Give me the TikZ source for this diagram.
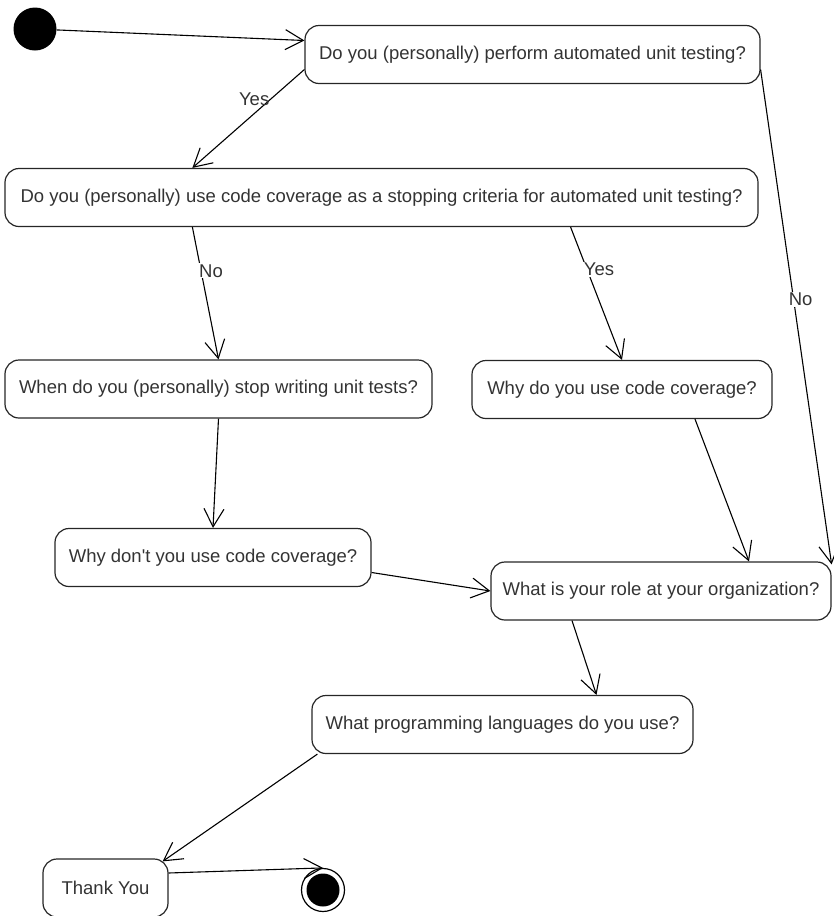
\documentclass[tikz,border=0pt]{standalone}
\usepackage{fontspec}
\setmainfont{Liberation Sans}
\usetikzlibrary{arrows.meta}
\definecolor{inkgray}{HTML}{333333}
\tikzset{my state/.style={draw=black!85,line width=1.2pt,rounded corners=14pt,minimum width=#1,minimum height=58pt,inner sep=0pt,text=inkgray,font=\fontsize{18.5}{22}\selectfont},
  my label/.style={fill=white,inner sep=1pt,text=inkgray,font=\fontsize{18.5}{22}\selectfont},
  my arrow/.style={-{Straight Barb[length=18pt,width=20pt]},line width=1.1pt},
  start dot/.style={circle,fill=black,minimum size=43pt,inner sep=0pt},
  end dot/.style={circle,draw=black,line width=1.2pt,minimum size=43pt,inner sep=0pt,
    path picture={\fill[black] (path picture bounding box.center) circle (16.5pt);}}}

\begin{document}
\begin{tikzpicture}[x=1pt,y=-1pt]
\useasboundingbox (0,0) rectangle (833,916);
\node[start dot] (start) at (35,29) {};
\node[my state=455pt] (q1) at (532.5,54.5) {Do you (personally) perform automated unit testing?};
\node[my state=753pt] (q2) at (381.5,197.5) {Do you (personally) use code coverage as a stopping criteria for automated unit testing?};
\node[my state=427pt] (q3) at (218.5,389) {When do you (personally) stop writing unit tests?};
\node[my state=300pt] (q4) at (622,389.5) {Why do you use code coverage?};
\node[my state=316pt] (q5) at (213,557.5) {Why don\textquotesingle t you use code coverage?};
\node[my state=340pt] (q6) at (661,591) {What is your role at your organization?};
\node[my state=381pt] (q7) at (502.5,724.5) {What programming languages do you use?};
\node[my state=125pt] (q8) at (105.5,888) {Thank You};
\node[end dot] (finish) at (323,890) {};

\draw[my arrow] (start) -- ([yshift=14pt]q1.west);
\draw[my arrow] ([yshift=-15pt]q1.west) -- node[my label,fill=none,pos=0.3,left=0pt] (yes1) {Yes} ([xshift=188pt]q2.north west);
\draw[my arrow] ([xshift=188pt]q2.south west) -- node[my label,pos=0.33,xshift=10pt] (no1) {No} (q3.north);
\draw[my arrow] ([xshift=-188pt]q2.south east) -- node[my label,pos=0.32,xshift=12pt] (yes2) {Yes} (q4.north);
\draw[my arrow] ([yshift=-15pt]q1.east) -- node[my label,pos=0.465,xshift=7pt] (no2) {No} ([yshift=-3pt]q6.north east);
\draw[my arrow] (q3.south) -- (q5.north);
\draw[my arrow] ([xshift=73pt]q4.south) -- ([xshift=88pt]q6.north);
\draw[my arrow] ([yshift=-15pt]q5.east) -- (q6.west);
\draw[my arrow] ([xshift=-89pt]q6.south) -- ([xshift=94pt]q7.north);
\draw[my arrow] ([xshift=6pt]q7.south west) -- ([xshift=-6pt,yshift=-3pt]q8.north east);
\draw[my arrow] ([yshift=15pt]q8.east) -- (finish.north);
\end{tikzpicture}
\end{document}
